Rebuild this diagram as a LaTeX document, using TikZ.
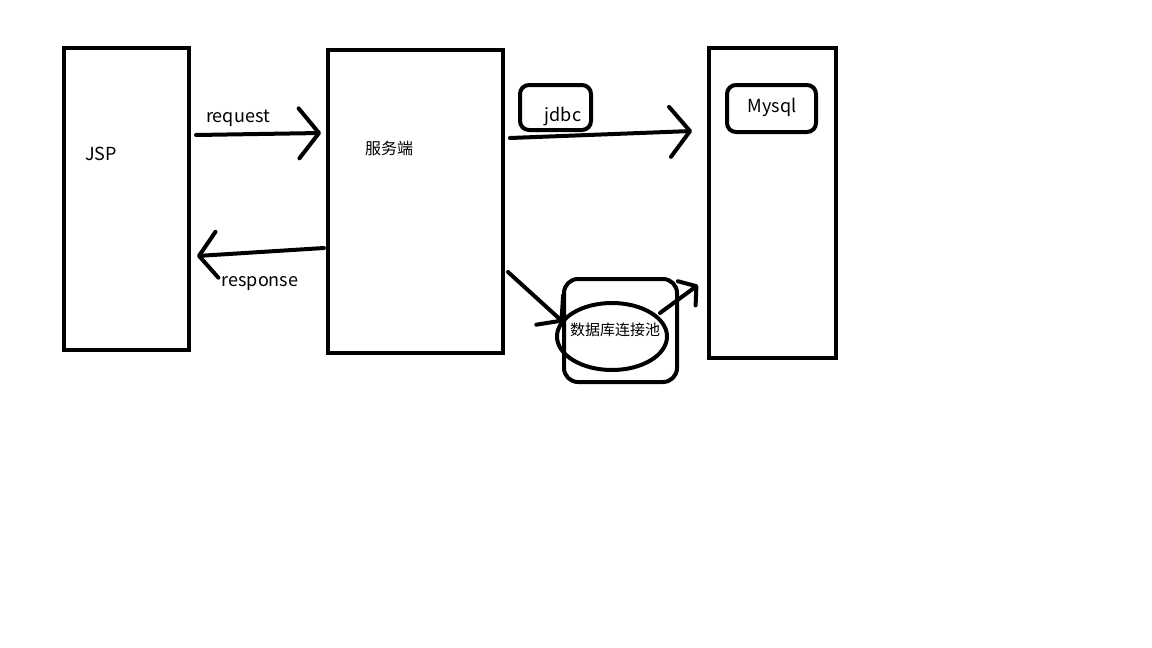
\documentclass[tikz,border=0pt]{standalone}
\usepackage{fontspec}
\setmainfont{Noto Sans CJK SC}
\usetikzlibrary{arrows.meta,shapes.geometric}
\begin{document}
\begin{tikzpicture}[x=1pt,y=-1pt,
  rbox/.style={draw,line width=4pt,rounded corners=9pt},
  conn/.style={line width=4pt,line cap=round,-{Straight Barb[length=20pt,width=50pt,line width=4pt,round]}},
  lbl/.style={font=\fontsize{18}{20}\selectfont,inner sep=0pt}]
\useasboundingbox (0,0) rectangle (1152,648);
\fill[white] (0,0) rectangle (1152,648);
% boxes
\node[draw,line width=4pt,minimum width=125pt,minimum height=302pt] (jspbox) at (126.5,199) {};
\node[draw,line width=4pt,minimum width=175pt,minimum height=303pt] (serverbox) at (415.5,201.5) {};
\node[draw,line width=4pt,minimum width=127pt,minimum height=310pt] (dbbox) at (772.5,203) {};
\node[rbox,minimum width=71pt,minimum height=45pt] (jdbcbox) at (555.5,107.5) {};
\node[rbox,minimum width=89pt,minimum height=47pt] (mysqlbox) at (771.5,108.5) {};
\node[rbox,minimum width=113pt,minimum height=103pt,rounded corners=14pt] (poolbox) at (620.5,330.5) {};
\node[draw,ellipse,line width=4pt,minimum width=110pt,minimum height=67pt,inner sep=0pt] (pool) at (612,336.5) {};
% texts
\node[lbl] (jsp) at (101,154) {JSP};
\node[lbl,font=\fontsize{16}{18}\selectfont] (server) at (389,148) {服务端};
\node[lbl] (req) at (238,118) {request};
\node[lbl] (resp) at (260,284) {response};
\node[lbl] (jdbc) at (563,117) {jdbc};
\node[lbl] (mysql) at (772,107) {Mysql};
\node[lbl,font=\fontsize{15}{17}\selectfont] (pooltxt) at (615,330) {数据库连接池};
% connector end points
\coordinate (a1) at (196,135); \coordinate (a2) at (321,133);
\coordinate (b1) at (324,248); \coordinate (b2) at (197,256);
\coordinate (c1) at (510,138); \coordinate (c2) at (692,131);
\coordinate (d1) at (508,272); \coordinate (d2) at (563,322);
\coordinate (e1) at (660,313); \coordinate (e2) at (698,285);
\draw[conn] (a1) -- (a2);
\draw[conn,-{Straight Barb[length=18pt,width=46pt,line width=4pt,round]}] (b1) -- (b2);
\draw[conn] (c1) -- (c2);
\draw[conn,-{Straight Barb[length=16pt,width=40pt,line width=4pt,round]}] (d1) -- (d2);
\draw[conn,-{Straight Barb[length=12pt,width=30pt,line width=4pt,round]}] (e1) -- (e2);
\end{tikzpicture}
\end{document}
